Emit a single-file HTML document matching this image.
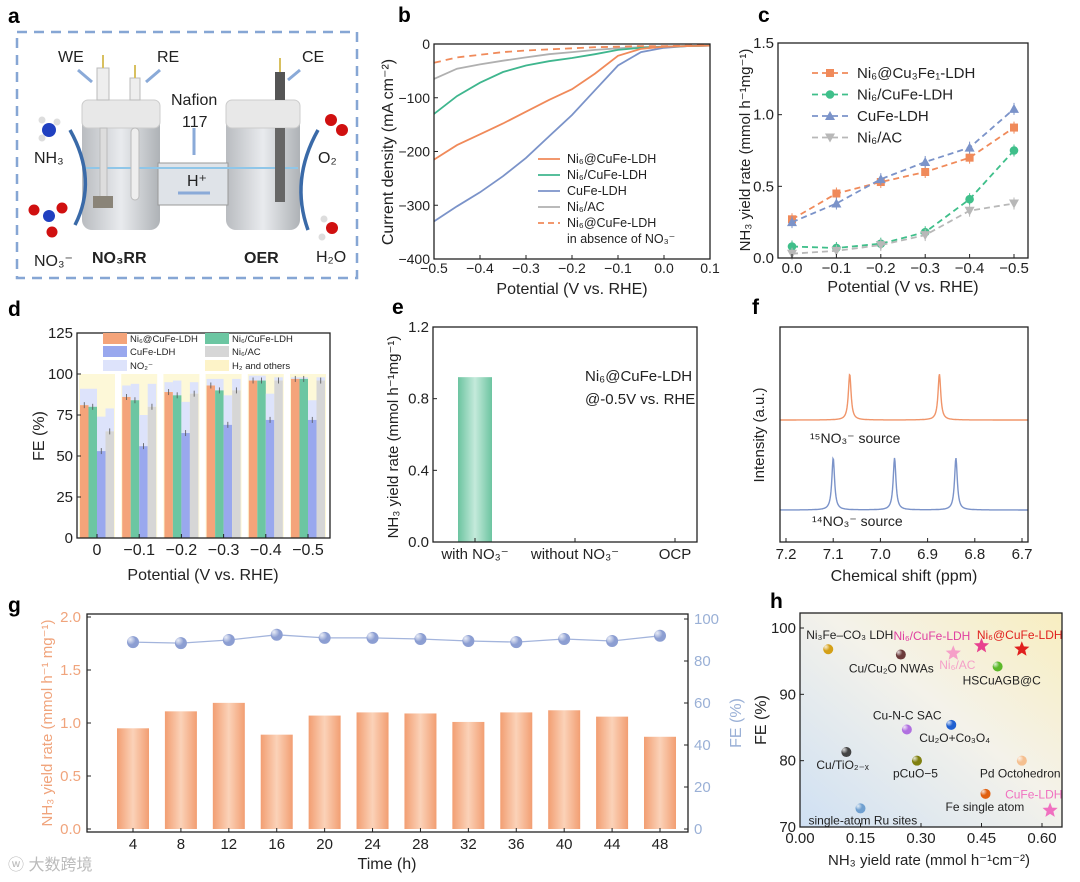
<!DOCTYPE html>
<html><head><meta charset="utf-8"><style>
html,body{margin:0;padding:0;background:#fff;}
svg{display:block;font-family:"Liberation Sans",Arial,sans-serif;}
</style></head><body>
<svg id="fig" width="1080" height="882" viewBox="0 0 1080 882" xmlns="http://www.w3.org/2000/svg">
<defs>
<linearGradient id="hbg" x1="0" y1="1" x2="1" y2="0"><stop offset="0" stop-color="#cfe0f3"/><stop offset="0.55" stop-color="#f4f2ea"/><stop offset="1" stop-color="#f8eec0"/></linearGradient>
<linearGradient id="cellg" x1="0" x2="1"><stop offset="0" stop-color="#b9bcc0"/><stop offset="0.5" stop-color="#e9ebee"/><stop offset="1" stop-color="#aeb2b6"/></linearGradient>
<linearGradient id="barg" x1="0" x2="1"><stop offset="0" stop-color="#f29e72"/><stop offset="0.5" stop-color="#fbd2b8"/><stop offset="1" stop-color="#f29e72"/></linearGradient>
<linearGradient id="bare" x1="0" x2="1"><stop offset="0" stop-color="#6cc4a0"/><stop offset="0.5" stop-color="#c4eadb"/><stop offset="1" stop-color="#6cc4a0"/></linearGradient>
<radialGradient id="ballg" cx="0.35" cy="0.35" r="0.7"><stop offset="0" stop-color="#fff" stop-opacity="0.8"/><stop offset="1" stop-color="#fff" stop-opacity="0"/></radialGradient>
</defs>

<!-- Panel a -->
<g>
<text x="8" y="23" font-size="21" font-weight="bold">a</text>
<rect x="17" y="32" width="340" height="246" fill="none" stroke="#86a6d4" stroke-width="2.5" stroke-dasharray="10,7"/>
<rect x="226" y="100" width="74" height="130" rx="10" fill="url(#cellg)"/>
<rect x="82" y="100" width="78" height="130" rx="10" fill="url(#cellg)"/>
<rect x="158" y="163" width="70" height="42" fill="#dfe3e8" stroke="#999" stroke-width="1"/>
<rect x="82" y="100" width="78" height="28" rx="6" fill="#e8e8e8" stroke="#ccc"/>
<rect x="226" y="100" width="74" height="28" rx="6" fill="#e8e8e8" stroke="#ccc"/>
<line x1="84" y1="168" x2="298" y2="168" stroke="#8fc6e8" stroke-width="2"/>
<rect x="97" y="68" width="12" height="32" fill="#eee" stroke="#bbb"/>
<rect x="100" y="128" width="7" height="72" fill="#ddd" stroke="#bbb"/>
<rect x="93" y="196" width="20" height="12" fill="#8a8478"/>
<rect x="130" y="78" width="10" height="22" fill="#eee" stroke="#bbb"/>
<rect x="131" y="128" width="8" height="72" rx="4" fill="#eee" stroke="#bbb"/>
<rect x="275" y="72" width="10" height="28" fill="#555"/>
<rect x="275" y="128" width="10" height="74" fill="#666"/>
<line x1="103" y1="55" x2="103" y2="68" stroke="#d8c060" stroke-width="2"/><line x1="135" y1="65" x2="135" y2="78" stroke="#d8c060" stroke-width="2"/><line x1="280" y1="58" x2="280" y2="72" stroke="#d8c060" stroke-width="2"/>
<g font-size="16" fill="#222">
<text x="58" y="62">WE</text>
<text x="157" y="62">RE</text>
<text x="302" y="62">CE</text>
<text x="171" y="105">Nafion</text>
<text x="182" y="127">117</text>
<text x="187" y="186">H⁺</text>
<text x="34" y="163">NH₃</text>
<text x="318" y="163">O₂</text>
<text x="34" y="266">NO₃⁻</text>
<text x="316" y="262">H₂O</text>
<text x="92" y="263" font-weight="bold">NO₃RR</text>
<text x="244" y="263" font-weight="bold">OER</text>
</g>
<g stroke="#8aaad8" stroke-width="3" fill="none">
<line x1="78" y1="70" x2="92" y2="82"/><line x1="160" y1="70" x2="146" y2="82"/><line x1="300" y1="70" x2="288" y2="80"/>
<line x1="194" y1="128" x2="194" y2="155"/><line x1="210" y1="193" x2="178" y2="193"/>
</g>
<g stroke="#3a6aa8" stroke-width="3.5" fill="none">
<path d="M75 225 Q 98 180 70 130" /><path d="M308 230 Q 290 180 318 130"/>
</g>
<g>
<circle cx="49" cy="130" r="7" fill="#2040c0"/><circle cx="42" cy="120" r="3.5" fill="#ddd"/><circle cx="57" cy="122" r="3.5" fill="#ddd"/><circle cx="42" cy="138" r="3.5" fill="#ddd"/>
<circle cx="331" cy="120" r="6" fill="#d01010"/><circle cx="342" cy="130" r="6" fill="#d01010"/>
<circle cx="49" cy="216" r="6" fill="#2040c0"/><circle cx="34" cy="210" r="5.5" fill="#d01010"/><circle cx="62" cy="208" r="5.5" fill="#d01010"/><circle cx="52" cy="232" r="5.5" fill="#d01010"/>
<circle cx="332" cy="228" r="6" fill="#d01010"/><circle cx="324" cy="219" r="3.5" fill="#ddd"/><circle cx="322" cy="237" r="3.5" fill="#ddd"/>
</g>
</g>

<g font-size="21" font-weight="bold">
<text x="398" y="22">b</text>
<text x="758" y="22">c</text>
<text x="8" y="316">d</text>
<text x="392" y="314">e</text>
<text x="752" y="314">f</text>
<text x="8" y="612">g</text>
<text x="770" y="608">h</text>
</g>
<g id="charts"></g>
<text x="8" y="870" font-size="16" fill="#bbb" font-family="'Liberation Sans','Noto Sans CJK SC',sans-serif">ⓦ 大数跨境</text>
</svg>
<script>
// ---------- data ----------
const bPot=[-0.5,-0.45,-0.4,-0.35,-0.3,-0.25,-0.2,-0.15,-0.1,-0.05,0,0.05,0.1];
const bOrange=[-215,-188,-168,-148,-126,-104,-84,-55,-22,-9,-5,-4,-3];
const bGreen=[-130,-97,-72,-52,-40,-32,-26,-19,-11,-7,-5,-4,-3];
const bBlue=[-330,-302,-276,-246,-212,-172,-132,-86,-40,-15,-7,-4,-3];
const bGray=[-65,-46,-38,-31,-25,-19,-15,-11,-8,-6,-5,-4,-3];
const bDashed=[-35,-25,-20,-15,-12,-10,-8,-6,-5,-4,-4,-3,-2];
const cPot=[0,-0.1,-0.2,-0.3,-0.4,-0.5];
const cOrange=[0.27,0.45,0.53,0.60,0.70,0.91];
const cGreen=[0.08,0.07,0.10,0.18,0.41,0.75];
const cBlue=[0.25,0.38,0.55,0.67,0.77,1.04];
const cGray=[0.03,0.05,0.09,0.16,0.33,0.38];
const dCats=["0","−0.1","−0.2","−0.3","−0.4","−0.5"];
const dNi6Cu=[81,86,89,93,96,97];
const dNi6CuFe=[80,84,87,90,96,97];
const dCuFe=[53,56,64,69,72,72];
const dNi6AC=[65,80,88,90,96,96];
const dNO2Ni6Cu=[10,7,6,4,3,1];
const dNO2Ni6CuFe=[11,10,9,7,3,1];
const dNO2CuFe=[21,19,19,18,16,12];
const dNO2Ni6AC=[14,14,7,7,2,2];
const eCats=["with NO₃⁻","without NO₃⁻","OCP"];
const eVals=[0.92,0,0];
const fPeaks15=[7.065,6.875];
const fPeaks14=[7.10,6.97,6.84];
const gTime=[4,8,12,16,20,24,28,32,36,40,44,48];
const gYield=[0.95,1.11,1.19,0.89,1.07,1.10,1.09,1.01,1.10,1.12,1.06,0.87];
const gFE=[89,88.5,90,92.5,91,91,90.5,89.5,89,90.5,89.5,92];
const hNames=["Ni₃Fe–CO₃ LDH","Cu/Cu₂O NWAs","Ni₆/CuFe-LDH","Ni₆/AC","Ni₆@CuFe-LDH","HSCuAGB@C","Cu-N-C SAC","Cu₂O+Co₃O₄","Cu/TiO₂₋ₓ","pCuO−5","Pd Octohedron","Fe single atom","CuFe-LDH","single-atom Ru sites"];
const hX=[0.07,0.25,0.45,0.38,0.55,0.49,0.265,0.375,0.115,0.29,0.55,0.46,0.62,0.15];
const hY=[96.8,96,97.3,96.2,96.8,94.2,84.7,85.4,81.3,80,80,75,72.5,72.8];
// ---------- styles ----------
const hColors=["#d4a017","#6b3a3a","#e8408f","#f5a0c8","#e0201e","#5cb82a","#b070e0","#2060d0","#444","#808010","#f5c090","#e06010","#f070c0","#70a0d0"];
const hStar=[0,0,1,1,1,0,0,0,0,0,0,0,1,0];
const hLab=[[-22,-10,"#222"],[-52,18,"#222"],[-88,-6,"#e040a0"],[-14,16,"#f5a0c8"],[-45,-10,"#e0201e"],[-35,18,"#222"],[-34,-10,"#222"],[-32,17,"#222"],[-30,17,"#222"],[-24,17,"#222"],[-42,17,"#222"],[-40,17,"#222"],[-45,-12,"#f070c0"],[-52,16,"#222"]];
const C={o:"#f08a5a",g:"#3fb68e",b:"#7b93c9",gr:"#b0b0b0"};

const root=document.getElementById('charts');
const NS="http://www.w3.org/2000/svg";
function mk(tag,attrs,name,parent){
  const el=document.createElementNS(NS,tag);
  for(const k in attrs) el.setAttribute(k,attrs[k]);
  
  
  (parent||root).appendChild(el);
  return el;
}
function txt(x,y,s,name,o){
  o=o||{};
  const t=mk('text',Object.assign({x:x,y:y,'font-size':o.fs||15,'text-anchor':o.a||'middle',fill:o.fill||'#222'},o.rot?{transform:`rotate(-90 ${x} ${y})`}:{}),name);
  t.textContent=s; return t;
}
function lin(d0,d1,r0,r1){return v=>r0+(v-d0)/(d1-d0)*(r1-r0);}
function frame(x0,y0,x1,y1,name){mk('rect',{x:x0,y:y0,width:x1-x0,height:y1-y0,fill:'none',stroke:'#222','stroke-width':1.3},name);}
function line(pts,stroke,name,extra){
  mk('path',Object.assign({d:'M'+pts.map(p=>p[0].toFixed(1)+' '+p[1].toFixed(1)).join(' L'),fill:'none',stroke:stroke,'stroke-width':1.8},extra||{}),name);
}
function xticks(vals,labels,sx,yAxis,ly,name,fs){vals.forEach((v,i)=>{mk('line',{x1:sx(v),x2:sx(v),y1:yAxis,y2:yAxis-4,stroke:'#222'},name+'-tick');txt(sx(v),ly,labels[i],name+'-label',{fs:fs||15});});}
function yticks(vals,labels,sy,xAxis,lx,name,fill,side,fs){vals.forEach((v,i)=>{const x2=side==='r'?xAxis-4:xAxis+4;mk('line',{x1:xAxis,x2:x2,y1:sy(v),y2:sy(v),stroke:'#222'},name+'-tick');txt(lx,sy(v)+5,labels[i],name+'-label',{a:side==='r'?'start':'end',fill:fill,fs:fs||15});});}

// ---------- panel b ----------
(function(){
const sx=lin(-0.5,0.1,434,710), sy=lin(0,-400,44,259);
[[bBlue,C.b,'curve-cufe-ldh'],[bGray,C.gr,'curve-ni6-ac'],[bGreen,C.g,'curve-ni6-cufe-ldh'],[bOrange,C.o,'curve-ni6-at-cufe-ldh']].forEach(s=>line(bPot.map((p,i)=>[sx(p),sy(s[0][i])]),s[1],s[2]));
line(bPot.map((p,i)=>[sx(p),sy(bDashed[i])]),C.o,'curve-no-nitrate',{'stroke-dasharray':'7,5'});
frame(434,44,710,259,'plot-b-frame');
xticks([-0.5,-0.4,-0.3,-0.2,-0.1,0,0.1],["−0.5","−0.4","−0.3","−0.2","−0.1","0.0","0.1"],sx,259,273,'b-x',14);
yticks([0,-100,-200,-300,-400],["0","−100","−200","−300","−400"],sy,434,430,'b-y',null,null,14);
txt(572,294,'Potential (V vs. RHE)','b-x-title',{fs:16});
txt(393,152,'Current density (mA cm⁻²)','b-y-title',{fs:16,rot:1});
const leg=[[C.o,'Ni₆@CuFe-LDH',0],[C.g,'Ni₆/CuFe-LDH',0],[C.b,'CuFe-LDH',0],[C.gr,'Ni₆/AC',0],[C.o,'Ni₆@CuFe-LDH',1]];
leg.forEach((l,i)=>{const y=159+i*16;mk('line',{x1:538,x2:560,y1:y,y2:y,stroke:l[0],'stroke-width':1.8,'stroke-dasharray':l[2]?'6,4':'none'},'b-legend-line');txt(567,y+4,l[1],'b-legend-label',{fs:12.5,a:'start'});});
txt(567,243,'in absence of NO₃⁻','b-legend-label',{fs:12.5,a:'start'});
})();

// ---------- panel c ----------
(function(){
const sx=lin(0,-0.5,792,1014), sy=lin(0,1.5,258,43);
const ser=[[cOrange,'#f08a5a','sq','Ni₆@Cu₃Fe₁-LDH'],[cGreen,'#3fbf8a','ci','Ni₆/CuFe-LDH'],[cBlue,'#7b93c9','tr','CuFe-LDH'],[cGray,'#b8b8b8','tv','Ni₆/AC']];
function marker(x,y,t,c,name){
  if(t==='sq')mk('rect',{x:x-4,y:y-4,width:8,height:8,fill:c},name);
  else if(t==='ci')mk('circle',{cx:x,cy:y,r:4.3,fill:c},name);
  else if(t==='tr')mk('path',{d:`M${x} ${y-5} L${x+5} ${y+4} L${x-5} ${y+4}Z`,fill:c},name);
  else mk('path',{d:`M${x} ${y+5} L${x+5} ${y-4} L${x-5} ${y-4}Z`,fill:c},name);
}
ser.forEach((s,k)=>{
  line(cPot.map((p,i)=>[sx(p),sy(s[0][i])]),s[1],'c-line-'+k,{'stroke-dasharray':'6,4'});
  cPot.forEach((p,i)=>{mk('line',{x1:sx(p),x2:sx(p),y1:sy(s[0][i])-6,y2:sy(s[0][i])+6,stroke:s[1],'stroke-width':1},'c-errorbar');marker(sx(p),sy(s[0][i]),s[2],s[1],'c-point');});
  const y=73+k*21.5;
  mk('line',{x1:812,x2:848,y1:y,y2:y,stroke:s[1],'stroke-width':1.8,'stroke-dasharray':'6,4'},'c-legend-line');
  marker(830,y,s[2],s[1],'c-legend-marker');
  txt(857,y+5,s[3],'c-legend-label',{fs:15,a:'start'});
});
frame(778,43,1028,258,'plot-c-frame');
xticks(cPot,["0.0","−0.1","−0.2","−0.3","−0.4","−0.5"],sx,258,273,'c-x');
yticks([0,0.5,1.0,1.5],["0.0","0.5","1.0","1.5"],sy,778,774,'c-y');
txt(903,292,'Potential (V vs. RHE)','c-x-title',{fs:16});
txt(750,150,'NH₃ yield rate (mmol h⁻¹mg⁻¹)','c-y-title',{fs:15,rot:1});
})();

// ---------- panel d ----------
(function(){
const sy=lin(0,125,538,333), cx=i=>97+i*42.2, bw=8.5;
const bars=[[dNi6Cu,dNO2Ni6Cu,'#f4a47a'],[dNi6CuFe,dNO2Ni6CuFe,'#6cc6a2'],[dCuFe,dNO2CuFe,'#99a8ee'],[dNi6AC,dNO2Ni6AC,'#d6d6d6']];
dCats.forEach((c,i)=>{
  mk('rect',{x:cx(i)-18,y:sy(100),width:36,height:sy(0)-sy(100),fill:'#fdf8d8'},'d-h2-others-bg');
  bars.forEach((b,k)=>{
    const x=cx(i)-17+k*bw;
    mk('rect',{x:x,y:sy(b[0][i]+b[1][i]),width:bw,height:sy(0)-sy(b[1][i]),fill:'#dde3fb'},'d-no2-bar');
    mk('rect',{x:x,y:sy(b[0][i]),width:bw,height:sy(0)-sy(b[0][i]),fill:b[2]},'d-fe-bar');
    mk('line',{x1:x+bw/2,x2:x+bw/2,y1:sy(b[0][i])-3,y2:sy(b[0][i])+3,stroke:'#555','stroke-width':0.8},'d-errorbar');
  });
});
frame(77,333,330,538,'plot-d-frame');
xticks([0,1,2,3,4,5],dCats,cx,538,555,'d-x',16);
yticks([0,25,50,75,100,125],["0","25","50","75","100","125"],sy,77,73,'d-y');
txt(203,580,'Potential (V vs. RHE)','d-x-title',{fs:16});
txt(44,436,'FE (%)','d-y-title',{fs:16,rot:1});
const L=[['#f4a47a','Ni₆@CuFe-LDH',103,338],['#6cc6a2','Ni₆/CuFe-LDH',205,338],['#99a8ee','CuFe-LDH',103,351],['#d6d6d6','Ni₆/AC',205,351],['#dde3fb','NO₂⁻',103,365],['#fdf3c8','H₂ and others',205,365]];
L.forEach(l=>{mk('rect',{x:l[2],y:l[3]-5,width:24,height:11,fill:l[0]},'d-legend-swatch');txt(l[2]+27,l[3]+4,l[1],'d-legend-label',{fs:9.5,a:'start'});});
})();

// ---------- panel e ----------
(function(){
const sy=lin(0,1.2,542,327), sx=i=>475+i*100;
eVals.forEach((v,i)=>{if(v>0)mk('rect',{x:sx(i)-17,y:sy(v),width:34,height:sy(0)-sy(v),fill:'url(#bare)'},'e-bar-'+i);});
frame(433,327,697,542,'plot-e-frame');
xticks([0,1,2],eCats,sx,542,559,'e-x');
yticks([0,0.4,0.8,1.2],["0.0","0.4","0.8","1.2"],sy,433,429,'e-y');
txt(398,437,'NH₃ yield rate (mmol h⁻¹mg⁻¹)','e-y-title',{fs:15,rot:1});
txt(585,381,'Ni₆@CuFe-LDH','e-annotation',{fs:15,a:'start'});
txt(585,404,'@-0.5V vs. RHE','e-annotation',{fs:15,a:'start'});
})();

// ---------- panel f ----------
(function(){
const sx=lin(7.2,6.7,786,1022);
function spec(peaks,base,h,col,name){
  const pts=[];for(let x=780;x<=1028;x+=0.5){const p=(x-786)/(1022-786)*-0.5+7.2;let y=0;peaks.forEach(c=>{const d=(p-c)/0.0035;y+=1/(1+d*d);});pts.push([x,base-h*y]);}
  line(pts,col,name,{'stroke-width':1.4});
}
spec(fPeaks15,420,46,'#f0956a','f-spectrum-15no3');
spec(fPeaks14,510,52,'#7b93c9','f-spectrum-14no3');
frame(780,327,1028,542,'plot-f-frame');
xticks([7.2,7.1,7.0,6.9,6.8,6.7],["7.2","7.1","7.0","6.9","6.8","6.7"],sx,542,559,'f-x');
txt(904,581,'Chemical shift (ppm)','f-x-title',{fs:16});
txt(764,435,'Intensity (a.u.)','f-y-title',{fs:15,rot:1});
txt(810,443,'¹⁵NO₃⁻ source','f-label-15',{fs:14,a:'start'});
txt(812,526,'¹⁴NO₃⁻ source','f-label-14',{fs:14,a:'start'});
})();

// ---------- panel g ----------
(function(){
const sx=lin(4,48,133,660), sy=lin(0,2,829,617), sr=lin(0,100,829,619);
gTime.forEach((t,i)=>mk('rect',{x:sx(t)-16,y:sy(gYield[i]),width:32,height:sy(0)-sy(gYield[i]),fill:'url(#barg)'},'g-yield-bar'));
line(gTime.map((t,i)=>[sx(t),sr(gFE[i])]),'#a3b4dc','g-fe-line',{'stroke-width':1.3});
gTime.forEach((t,i)=>{mk('circle',{cx:sx(t),cy:sr(gFE[i]),r:6,fill:'#8c9ed2'},'g-fe-point');mk('circle',{cx:sx(t)-1.5,cy:sr(gFE[i])-1.5,r:4,fill:'url(#ballg)'},'g-fe-highlight');});
frame(87,614,688,832,'plot-g-frame');
xticks(gTime,gTime.map(String),sx,832,849,'g-x');
yticks([0,0.5,1.0,1.5,2.0],["0.0","0.5","1.0","1.5","2.0"],sy,87,81,'g-y-left','#f0a47c');
yticks([0,20,40,60,80,100],["0","20","40","60","80","100"],sr,688,694,'g-y-right','#9ab0d6','r');
txt(387,869,'Time (h)','g-x-title',{fs:16});
txt(52,723,'NH₃ yield rate (mmol h⁻¹ mg⁻¹)','g-y-left-title',{fs:15,rot:1,fill:'#f0a47c'});
txt(741,723,'FE (%)','g-y-right-title',{fs:16,rot:1,fill:'#9ab0d6'});
})();

// ---------- panel h ----------
(function(){
const sx=lin(0,0.6,800,1042), sy=lin(70,100,827,628);
mk('rect',{x:800,y:613,width:262,height:214,fill:'url(#hbg)'},'h-background');
hNames.forEach((n,i)=>{
  const x=sx(hX[i]),y=sy(hY[i]);
  if(hStar[i]){const pts=[];for(let k=0;k<10;k++){const r=k%2?3.5:8,a=-Math.PI/2+k*Math.PI/5;pts.push((x+r*Math.cos(a)).toFixed(1)+','+(y+r*Math.sin(a)).toFixed(1));}mk('polygon',{points:pts.join(' '),fill:hColors[i]},'h-star-point');}
  else{mk('circle',{cx:x,cy:y,r:5,fill:hColors[i]},'h-point');mk('circle',{cx:x-1.5,cy:y-1.5,r:3,fill:'url(#ballg)'},'h-point-highlight');}
  txt(x+hLab[i][0],y+hLab[i][1],n,'h-point-label',{fs:12,a:'start',fill:hLab[i][2]});
});
frame(800,613,1062,827,'plot-h-frame');
xticks([0,0.15,0.3,0.45,0.6],["0.00","0.15","0.30","0.45","0.60"],sx,827,843,'h-x');
yticks([70,80,90,100],["70","80","90","100"],sy,800,796,'h-y');
txt(929,865,'NH₃ yield rate (mmol h⁻¹cm⁻²)','h-x-title',{fs:15});
txt(766,720,'FE (%)','h-y-title',{fs:16,rot:1});
})();
</script>
</body></html>
